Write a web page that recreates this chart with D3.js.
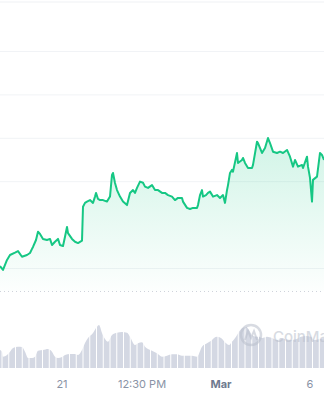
<!DOCTYPE html>
<html>
<head>
<meta charset="utf-8">
<script src="https://cdn.jsdelivr.net/npm/d3@7"></script>
<style>
  html, body { margin: 0; padding: 0; background: #fff; }
  svg { display: block; }
</style>
</head>
<body>
<svg class="chart"></svg>
<script>
// t = time step (20 min), price in USD
const priceT = [0, 3, 7, 10, 15, 18, 22, 27, 30, 32, 33, 36, 38, 40, 43, 47, 50, 52, 55, 58, 60, 63, 65, 67, 68, 72, 75, 78, 82,
  83, 85, 87, 90, 93, 95, 96, 98, 100, 103, 107, 110, 112, 113, 115, 117, 120, 123, 127, 130, 133, 135, 137, 140, 143, 145,
  148, 152, 155, 158, 162, 165, 168, 172, 175, 178, 182, 183, 187, 190, 193, 197, 198, 200, 202, 203, 206, 208, 210, 213,
  217, 220, 223, 225, 227, 228, 230, 232, 233, 237, 238, 242, 243, 245, 248, 252, 253, 257, 258, 262, 265, 268, 270, 273,
  277, 280, 283, 287, 290, 293, 295, 298, 302, 303, 307, 308, 310, 312, 313, 317, 320, 322, 324];
const prices = [0.6009, 0.5991, 0.6037, 0.6060, 0.6071, 0.6078, 0.6052, 0.6060, 0.6069, 0.6088, 0.6097, 0.6129, 0.6167,
  0.6157, 0.6134, 0.6129, 0.6134, 0.6106, 0.6121, 0.6134, 0.6106, 0.6101, 0.6144, 0.6189, 0.6161, 0.6134, 0.6121, 0.6115,
  0.6126, 0.6282, 0.6300, 0.6306, 0.6313, 0.6300, 0.6329, 0.6346, 0.6318, 0.6313, 0.6313, 0.6306, 0.6329, 0.6429, 0.6438,
  0.6392, 0.6359, 0.6329, 0.6306, 0.6290, 0.6346, 0.6359, 0.6346, 0.6369, 0.6398, 0.6393, 0.6375, 0.6369, 0.6382, 0.6359,
  0.6359, 0.6346, 0.6346, 0.6336, 0.6329, 0.6313, 0.6323, 0.6323, 0.6306, 0.6277, 0.6272, 0.6277, 0.6277, 0.6290, 0.6336,
  0.6359, 0.6329, 0.6336, 0.6346, 0.6352, 0.6329, 0.6336, 0.6323, 0.6336, 0.6300, 0.6359, 0.6382, 0.6438, 0.6452, 0.6444,
  0.6530, 0.6484, 0.6498, 0.6507, 0.6484, 0.6461, 0.6461, 0.6475, 0.6582, 0.6576, 0.6530, 0.6553, 0.6599, 0.6576, 0.6536,
  0.6530, 0.6536, 0.6530, 0.6544, 0.6513, 0.6467, 0.6498, 0.6467, 0.6475, 0.6461, 0.6513, 0.6467, 0.6415, 0.6306, 0.6406,
  0.6421, 0.6530, 0.6521, 0.6498];

// volume in millions
const volumeT = [0, 2, 3, 7, 10, 13, 18, 22, 25, 28, 32, 35, 38, 43, 48, 52, 55, 58, 62, 65, 70, 75, 78, 82, 85, 88, 93, 97,
  99, 102, 105, 108, 112, 117, 122, 127, 130, 135, 138, 142, 145, 152, 157, 162, 167, 172, 177, 182, 187, 192, 197, 202,
  207, 212, 214, 217, 221, 226, 229, 232, 236, 239, 242, 246, 249, 252, 256, 259, 262, 267, 272, 277, 281, 286, 291, 296,
  301, 306, 311, 314, 319, 324];
const volumes = [18, 16.3, 11.3, 13, 16.3, 20, 21.3, 21, 16.3, 10, 10, 11.3, 17.3, 18, 19, 16.3, 11.3, 10, 11, 13, 14, 14, 13,
  18, 25, 30, 35, 41.3, 43, 35, 29, 26.3, 33, 35.3, 36, 35.3, 31.3, 23, 24.7, 25.7, 21.3, 17.3, 14.7, 11.3, 12.3, 13.7, 13.7,
  12.3, 12.3, 12.3, 11.3, 21.3, 24.7, 28, 30, 31.3, 30, 24.7, 23, 26.3, 31.3, 36.3, 39.7, 41.3, 38, 33, 31.3, 31.3, 30, 31.3,
  30, 28, 30, 28.7, 28, 28.7, 31.3, 32, 31.3, 28, 28.7, 30];

const priceTicks = [0.60, 0.64, 0.66, 0.68, 0.70];
const timeTicks = [62, 142, 221, 310];
const timeLabels = ['21', '12:30 PM', 'Mar', '6'];

const startApp = () => {
  const viewBox = { width: 324, height: 400 };
  const xScale = d3.scaleLinear().domain([0, 324]).range([0, viewBox.width]);
  const yScale = d3.scaleLinear().domain([0.60, 0.70]).range([268, 51]);
  const vScale = d3.scaleLinear().domain([0, 50]).range([368, 318]);
  const baseY = 291;

  const chart = d3.select('.chart')
    .attr('width', viewBox.width)
    .attr('height', viewBox.height)
    .attr('viewBox', `0 0 ${viewBox.width} ${viewBox.height}`);

  const defs = chart.append('defs');
  const fillGrad = defs.append('linearGradient')
    .attr('id', 'priceFill')
    .attr('gradientUnits', 'userSpaceOnUse')
    .attr('x1', 0).attr('x2', 0)
    .attr('y1', 135).attr('y2', baseY);
  fillGrad.append('stop').attr('offset', '0%').attr('stop-color', '#16c784').attr('stop-opacity', 0.2);
  fillGrad.append('stop').attr('offset', '100%').attr('stop-color', '#16c784').attr('stop-opacity', 0.01);

  // top border + gridlines
  chart.append('line')
    .attr('x1', 0).attr('x2', viewBox.width)
    .attr('y1', 2).attr('y2', 2)
    .attr('stroke', '#eff1f4');
  chart.append('g')
    .selectAll('line')
    .data(priceTicks)
    .enter()
    .append('line')
    .attr('x1', 0)
    .attr('x2', viewBox.width)
    .attr('y1', d => yScale(d) + 0.5)
    .attr('y2', d => yScale(d) + 0.5)
    .attr('stroke', '#f1f3f6');

  // dotted reference line
  chart.append('line')
    .attr('x1', 0).attr('x2', viewBox.width)
    .attr('y1', baseY + 0.5).attr('y2', baseY + 0.5)
    .attr('stroke', '#cfd3db')
    .attr('stroke-dasharray', '1,3');

  const pricePoints = priceT.map((t, i) => [t, prices[i]]);

  const area = d3.area()
    .x(d => xScale(d[0]))
    .y0(baseY)
    .y1(d => yScale(d[1]));
  chart.append('path')
    .datum(pricePoints)
    .attr('d', area)
    .attr('fill', 'url(#priceFill)');

  const line = d3.line()
    .x(d => xScale(d[0]))
    .y(d => yScale(d[1]));
  chart.append('path')
    .datum(pricePoints)
    .attr('d', line)
    .attr('fill', 'none')
    .attr('stroke', '#16c784')
    .attr('stroke-width', 2)
    .attr('stroke-linejoin', 'round');

  // volume
  const volPoints = volumeT.map((t, i) => [t, volumes[i]]);
  const volArea = d3.area()
    .curve(d3.curveMonotoneX)
    .x(d => xScale(d[0]))
    .y0(vScale(0))
    .y1(d => vScale(d[1]));
  chart.append('path')
    .datum(volPoints)
    .attr('d', volArea)
    .attr('fill', '#d4d8e3');

  // bar separators
  chart.append('g')
    .selectAll('line')
    .data(d3.range(2, 324, 6.75))
    .enter()
    .append('line')
    .attr('x1', d => xScale(d))
    .attr('x2', d => xScale(d))
    .attr('y1', 300)
    .attr('y2', vScale(0))
    .attr('stroke', '#fff')
    .attr('stroke-width', 1);

  // watermark
  const mark = chart.append('g').attr('opacity', 0.55);
  mark.append('circle')
    .attr('cx', 251).attr('cy', 335).attr('r', 10)
    .attr('fill', 'none')
    .attr('stroke', '#b9bfcc')
    .attr('stroke-width', 2.5);
  mark.append('path')
    .attr('d', 'M245,340 L248,331 L251,338 L254,331 L257,340')
    .attr('fill', 'none')
    .attr('stroke', '#b9bfcc')
    .attr('stroke-width', 2);
  mark.append('text')
    .attr('x', 273).attr('y', 342)
    .attr('font-family', 'Inter, sans-serif')
    .attr('font-size', 15)
    .attr('font-weight', 500)
    .attr('fill', '#b9bfcc')
    .text('CoinMarketCap');

  // x axis labels
  chart.append('g')
    .selectAll('text')
    .data(timeTicks)
    .enter()
    .append('text')
    .attr('x', d => xScale(d))
    .attr('y', 388)
    .attr('text-anchor', 'middle')
    .attr('font-family', 'Inter, sans-serif')
    .attr('font-size', 11)
    .attr('font-weight', (d, i) => (timeLabels[i] === 'Mar' ? 700 : 400))
    .attr('fill', (d, i) => (timeLabels[i] === 'Mar' ? '#6f7a8f' : '#8a93a6'))
    .text((d, i) => timeLabels[i]);
};

window.onload = startApp;
</script>
</body>
</html>
